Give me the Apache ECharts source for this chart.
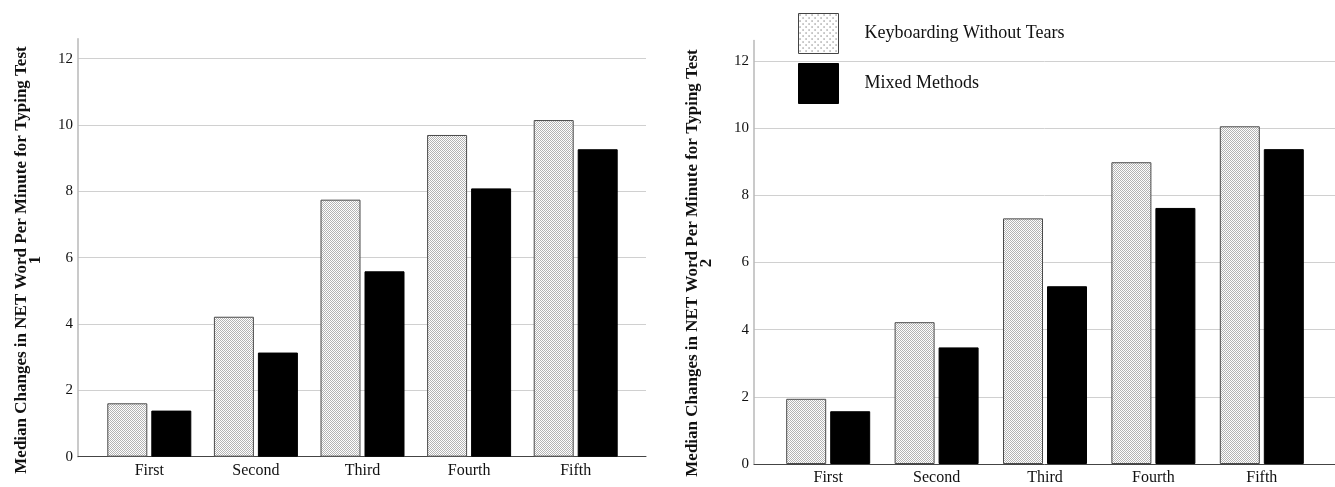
<!DOCTYPE html>
<html>
<head>
<meta charset="utf-8">
<style>
  html, body { margin: 0; padding: 0; background: #fff; }
  #chart { width: 1335px; height: 487px; }
</style>
<script src="https://cdn.jsdelivr.net/npm/echarts@6/dist/echarts.min.js"></script>
</head>
<body>
<div id="chart"></div>
<script>
// ---- Data ----
const categories = ['First', 'Second', 'Third', 'Fourth', 'Fifth'];
const seriesNames = ['Keyboarding Without Tears', 'Mixed Methods'];
const test1KWT = [1.61, 4.22, 7.75, 9.70, 10.15];
const test1MM  = [1.39, 3.14, 5.59, 8.09, 9.27];
const test2KWT = [1.94, 4.22, 7.31, 8.98, 10.05];
const test2MM  = [1.57, 3.47, 5.29, 7.62, 9.37];
const yTitle1 = 'Median Changes in NET Word Per Minute for Typing Test\n1';
const yTitle2 = 'Median Changes in NET Word Per Minute for Typing Test\n2';

// ---- Patterns ----
function makePattern(w, h, dots, dotColor, size) {
  const c = document.createElement('canvas');
  c.width = w; c.height = h;
  const ctx = c.getContext('2d');
  ctx.fillStyle = '#ffffff';
  ctx.fillRect(0, 0, w, h);
  ctx.fillStyle = dotColor;
  dots.forEach(d => ctx.fillRect(d[0], d[1], size, size));
  return { image: c, repeat: 'repeat' };
}
const densePattern = makePattern(2, 2, [[0, 0], [1, 1]], '#b4b4b4', 1);
const sparsePattern = makePattern(6, 6, [[1, 1], [4, 4]], '#333333', 1);

const FONT = 'Liberation Serif';
const YMAX = 12.6;

const chart = echarts.init(document.getElementById('chart'));

function outerY(gridIndex) {
  return {
    type: 'value', gridIndex: gridIndex, min: 0, max: 12, interval: 2,
    axisLine: { show: false },
    axisTick: { show: false },
    axisLabel: { show: true, margin: 5, color: '#111', fontFamily: FONT, fontSize: 15 },
    splitLine: { show: true, lineStyle: { color: '#d0d0d0', width: 1 } }
  };
}
function innerY(gridIndex, offset) {
  return {
    type: 'value', gridIndex: gridIndex, min: 0, max: YMAX, offset: offset,
    axisLine: { show: true, lineStyle: { color: '#b8b8b8', width: 1.5 } },
    axisTick: { show: false },
    axisLabel: { show: false },
    splitLine: { show: false }
  };
}
function outerX(gridIndex) {
  return {
    type: 'value', gridIndex: gridIndex, min: 0, max: 1,
    axisLine: { show: true, onZero: false, lineStyle: { color: '#444', width: 1 } },
    axisTick: { show: false }, axisLabel: { show: false }, splitLine: { show: false }
  };
}
function innerX(gridIndex) {
  return {
    type: 'category', gridIndex: gridIndex, data: categories,
    axisLine: { show: false }, axisTick: { show: false },
    axisLabel: { margin: 6, color: '#111', fontFamily: FONT, fontSize: 16 },
    splitLine: { show: false }
  };
}
function kwtSeries(axisIndex, data) {
  return {
    name: seriesNames[0], type: 'bar', xAxisIndex: axisIndex, yAxisIndex: axisIndex,
    data: data, barWidth: 40, barGap: '10%',
    itemStyle: { color: densePattern, borderColor: '#4a4a4a', borderWidth: 1 },
    emphasis: { disabled: true }
  };
}
function mmSeries(axisIndex, data) {
  return {
    name: seriesNames[1], type: 'bar', xAxisIndex: axisIndex, yAxisIndex: axisIndex,
    data: data, barWidth: 40, barGap: '10%',
    itemStyle: { color: '#000', borderColor: '#000', borderWidth: 1 },
    emphasis: { disabled: true }
  };
}

chart.setOption({
  animation: false,
  backgroundColor: '#ffffff',
  grid: [
    { left: 78, top: 58.7, width: 568, height: 398 },      // left outer
    { left: 96, top: 38.8, width: 533, height: 417.9 },    // left inner
    { left: 754, top: 60.8, width: 581, height: 403.2 },   // right outer
    { left: 774, top: 40.6, width: 542, height: 423.4 }    // right inner
  ],
  xAxis: [outerX(0), innerX(1), outerX(2), innerX(3)],
  yAxis: [outerY(0), innerY(1, 18), outerY(2), innerY(3, 20)],
  legend: {
    orient: 'vertical', left: 798, top: 13, padding: 0,
    itemWidth: 40, itemHeight: 40, itemGap: 9,
    icon: 'rect',
    selectedMode: false,
    textStyle: { fontFamily: FONT, fontSize: 18, color: '#111', padding: [0, 0, 0, 21] },
    data: [
      { name: seriesNames[0], itemStyle: { color: sparsePattern, borderColor: '#444', borderWidth: 1 } },
      { name: seriesNames[1], itemStyle: { color: '#000', borderColor: '#000', borderWidth: 1 } }
    ]
  },
  graphic: [
    {
      type: 'text', x: 29, y: 260, rotation: Math.PI / 2,
      style: { text: yTitle1, fontFamily: FONT, fontSize: 17, fontWeight: 'bold', fill: '#111',
               align: 'center', verticalAlign: 'middle', lineHeight: 14 }
    },
    {
      type: 'text', x: 700, y: 263, rotation: Math.PI / 2,
      style: { text: yTitle2, fontFamily: FONT, fontSize: 17, fontWeight: 'bold', fill: '#111',
               align: 'center', verticalAlign: 'middle', lineHeight: 14 }
    }
  ],
  series: [
    kwtSeries(1, test1KWT), mmSeries(1, test1MM),
    kwtSeries(3, test2KWT), mmSeries(3, test2MM)
  ]
});
</script>
</body>
</html>
